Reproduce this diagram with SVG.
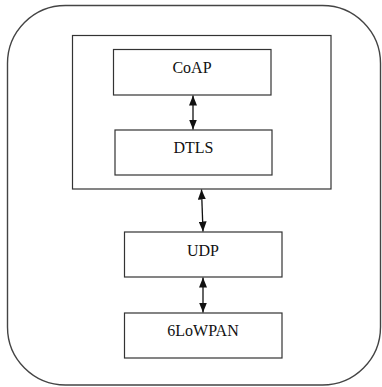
<svg xmlns="http://www.w3.org/2000/svg" width="382" height="387" viewBox="0 0 382 387">
  <style>
    .box { fill: #ffffff; stroke: #333333; stroke-width: 1.2; }
    .frame { fill: none; stroke: #444444; stroke-width: 1.4; }
    .label { font-family: "Liberation Serif", "Times New Roman", serif; font-size: 16px; fill: #111111; text-anchor: middle; }
    .link { stroke: #111111; stroke-width: 1.3; fill: none; marker-start: url(#head); marker-end: url(#head); }
  </style>
  <defs>
    <marker id="head" viewBox="0 0 10 10" refX="10" refY="5" markerWidth="10" markerHeight="8" markerUnits="userSpaceOnUse" orient="auto-start-reverse" preserveAspectRatio="none">
      <path d="M0,0 L10,5 L0,10 Z" fill="#111111"/>
    </marker>
  </defs>

  <!-- device outline -->
  <rect class="frame" x="7.5" y="5.5" width="373" height="379.5" rx="58" ry="58"/>

  <!-- secured application layer container -->
  <g id="app-layer">
    <rect class="box" x="72.5" y="35.5" width="258.5" height="153.5"/>
  </g>

  <g id="coap">
    <rect class="box" x="113.5" y="49.5" width="157.5" height="45.5"/>
    <text class="label" x="192" y="73">CoAP</text>
  </g>

  <g id="dtls">
    <rect class="box" x="115" y="130" width="157" height="45"/>
    <text class="label" x="193.5" y="153">DTLS</text>
  </g>

  <g id="udp">
    <rect class="box" x="124.5" y="232" width="157.5" height="45"/>
    <text class="label" x="203" y="256">UDP</text>
  </g>

  <g id="sixlowpan">
    <rect class="box" x="124.5" y="313" width="157.5" height="45"/>
    <text class="label" x="203" y="336">6LoWPAN</text>
  </g>

  <g id="connectors">
    <line class="link" x1="193" y1="95.5" x2="193" y2="129.5"/>
    <line class="link" x1="201.5" y1="189.5" x2="203" y2="231.5"/>
    <line class="link" x1="203" y1="277.5" x2="203" y2="312.5"/>
  </g>
</svg>
